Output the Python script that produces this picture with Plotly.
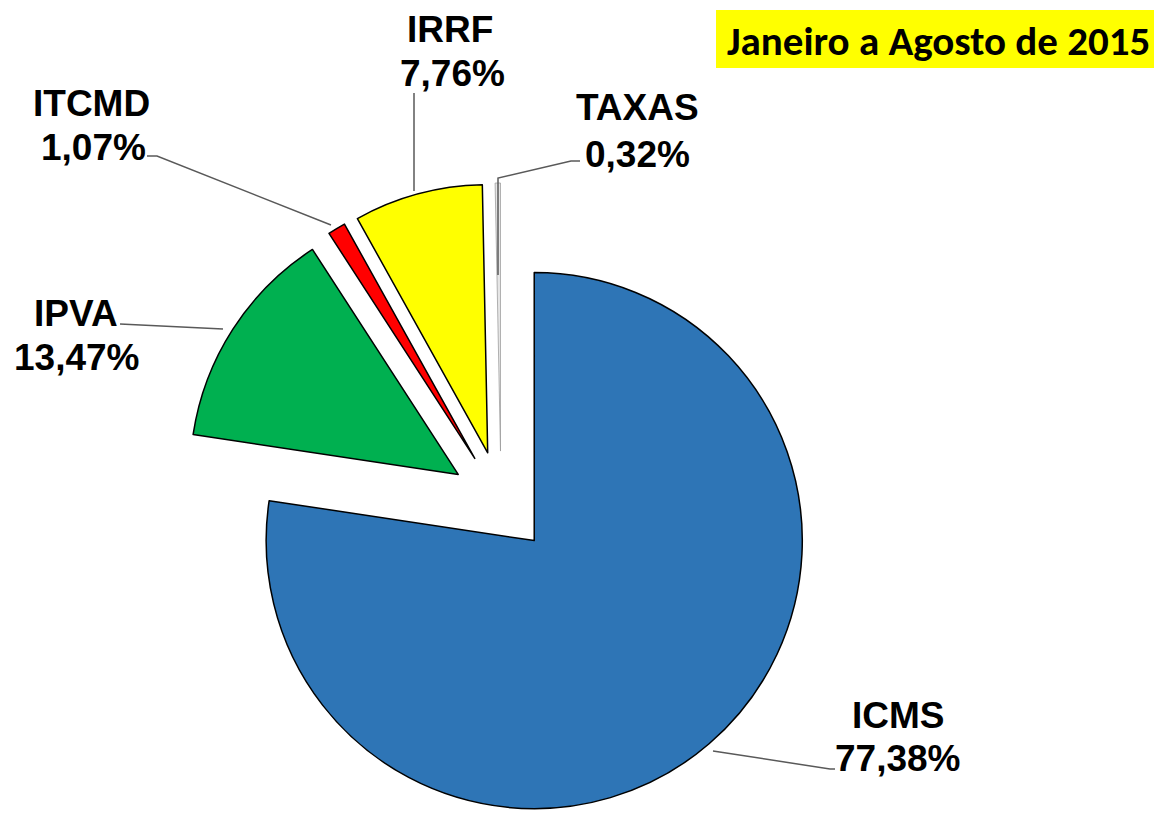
import plotly.graph_objects as go

W, H = 1162, 813
OFF = 8  # page body margin the figure sits in

# data
taxes = ["ICMS", "IPVA", "ITCMD", "IRRF", "TAXAS"]
shares = [77.38, 13.47, 1.07, 7.76, 0.32]
colors = ["#2E75B6", "#00B050", "#FF0000", "#FFFF00", "#E6E6E6"]
edge_colors = ["#000000", "#000000", "#000000", "#000000", "#9A9A9A"]
edge_widths = [1.5, 1.5, 1.5, 1.5, 0.75]
explode = [0.19, 0.19, 0.19, 0.19, 0.19]
period = "Janeiro a Agosto de 2015"


def px(x):
    return (x - OFF) / W


def py(y):
    return 1 - (y - OFF) / H


def pct(v):
    return f"{v:.2f}%".replace(".", ",")


# pie centre / size in window pixels
cx, cy, half = 501, 502, 319

fig = go.Figure(
    go.Pie(
        labels=taxes,
        values=shares,
        sort=False,
        direction="clockwise",
        rotation=0,
        pull=explode,
        textinfo="none",
        hoverinfo="label+percent",
        marker=dict(colors=colors, line=dict(color=edge_colors, width=edge_widths)),
        domain=dict(x=[px(cx - half), px(cx + half)], y=[max(0, py(cy + half)), py(cy - half)]),
        showlegend=False,
    )
)

# name / value text positions (x centre, y of cap middle)
name_pos = {
    "ICMS": (898, 715),
    "IPVA": (76, 313),
    "ITCMD": (91, 104),
    "IRRF": (450, 30),
    "TAXAS": (637, 107),
}
value_pos = {
    "ICMS": (898, 758),
    "IPVA": (77, 358),
    "ITCMD": (93, 147),
    "IRRF": (452, 73),
    "TAXAS": (637, 154),
}
leaders = {
    "ICMS": [(713, 751), (830, 769), (835, 769)],
    "IPVA": [(120, 324), (223, 329)],
    "ITCMD": [(147, 156), (157, 156), (331, 225)],
    "IRRF": [(414, 93), (414, 191)],
    "TAXAS": [(580, 161), (571, 161), (498, 178), (498, 275)],
}

lbl_font = dict(family="Liberation Sans, Arial", size=37, color="black")
for name, val in zip(taxes, shares):
    for txt, (x, y) in ((name, name_pos[name]), (pct(val), value_pos[name])):
        fig.add_annotation(
            x=px(x), y=py(y), xref="paper", yref="paper",
            text=f"<b>{txt}</b>", showarrow=False,
            xanchor="center", yanchor="middle", font=lbl_font,
        )
    path = "M " + " L ".join(f"{px(a)},{py(b)}" for a, b in leaders[name])
    fig.add_shape(type="path", path=path, xref="paper", yref="paper",
                  line=dict(color="#595959", width=1.5))

# period box
fig.add_shape(type="rect", xref="paper", yref="paper",
              x0=px(716), x1=px(1175), y0=py(68), y1=py(10),
              fillcolor="#FFFF00", line=dict(width=0), layer="below")
fig.add_annotation(
    x=px(938), y=py(41), xref="paper", yref="paper",
    text=f"<b>{period}</b>", showarrow=False,
    xanchor="center", yanchor="middle",
    font=dict(family="Calibri, Carlito, Lato", size=41, color="black"),
)

fig.update_layout(
    width=W, height=H,
    margin=dict(l=0, r=0, t=0, b=0),
    paper_bgcolor="white",
    plot_bgcolor="white",
)

fig.write_html("out.html")
